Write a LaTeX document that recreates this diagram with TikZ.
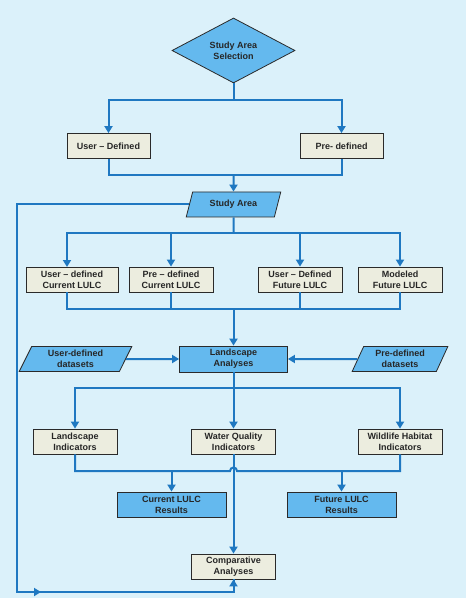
\documentclass[tikz,border=0pt]{standalone}
\usepackage{fontspec}
\setmainfont{Liberation Sans}
\usetikzlibrary{shapes.geometric,arrows.meta,calc}
\definecolor{bgc}{HTML}{DBF1FA}
\definecolor{linec}{HTML}{1F78C1}
\definecolor{bluef}{HTML}{64B9EE}
\definecolor{beigef}{HTML}{ECEDDF}
\definecolor{edgec}{HTML}{2A2A2A}
\tikzset{
  every node/.style={font=\fontsize{9}{11}\selectfont\bfseries, text=black!85, align=center},
  boxbase/.style={draw=edgec, line width=0.8pt, inner sep=0pt, minimum height=25pt},
  beigebox/.style={boxbase, fill=beigef},
  bluebox/.style={boxbase, fill=bluef},
  parabox/.style={draw=edgec, line width=0.8pt, fill=bluef, trapezium, trapezium left angle=66, trapezium right angle=114, trapezium stretches=true, inner sep=0pt, minimum height=25pt},
  diabox/.style={draw=edgec, line width=0.8pt, fill=bluef, diamond, aspect=1.9, inner sep=0pt, minimum width=123pt, minimum height=65pt},
  conn/.style={draw=linec, line width=2pt},
  arr/.style={conn, -{Triangle[length=7pt,width=8pt]}},
}
\begin{document}
\begin{tikzpicture}[x=1pt,y=-1pt]
\useasboundingbox (0,0) rectangle (467,601);
\fill[white] (0,0) rectangle (467,601);
\fill[bgc] (0,0) rectangle (465.5,597.5);

% nodes
\node[diabox] (dia) at (233.5,50.5) {Study Area\\Selection};
\node[beigebox, minimum width=83pt] (ud) at (108.5,146) {User -- Defined};
\node[beigebox, minimum width=83pt] (pd) at (341.5,146) {Pre- defined};
\node[parabox, minimum width=95pt] (sa) at (233.5,204.5) {Study Area};

\node[beigebox, minimum width=92pt] (b1) at (72,279.5) {User -- defined\\Current LULC};
\node[beigebox, minimum width=84pt] (b2) at (171,279.5) {Pre -- defined\\Current LULC};
\node[beigebox, minimum width=84pt] (b3) at (300,279.5) {User -- Defined\\Future LULC};
\node[beigebox, minimum width=84pt] (b4) at (400,279.5) {Modeled\\Future LULC};

\node[bluebox, minimum width=108pt, minimum height=26pt] (la) at (233.5,359) {Landscape\\Analyses};
\node[parabox, minimum width=113pt] (udd) at (75.5,359) {User-defined\\datasets};
\node[parabox, minimum width=96pt] (pdd) at (400,359) {Pre-defined\\datasets};

\node[beigebox, minimum width=84pt] (li) at (75,441.5) {Landscape\\Indicators};
\node[beigebox, minimum width=84pt] (wq) at (233.5,441.5) {Water Quality\\Indicators};
\node[beigebox, minimum width=84pt] (wh) at (400,441.5) {Wildlife Habitat\\Indicators};

\node[bluebox, minimum width=109pt] (cr) at (171.5,504.5) {Current LULC\\Results};
\node[bluebox, minimum width=109pt] (fr) at (341.5,504.5) {Future LULC\\Results};

\node[beigebox, minimum width=84pt] (ca) at (233.5,566.5) {Comparative\\Analyses};

% coordinates
\coordinate (j1) at (233.5,100.5);
\coordinate (j2) at (233.5,175.5);
\coordinate (j3) at (233.5,233);
\coordinate (b1t) at (67,267);
\coordinate (b1b) at (67,292);
\coordinate (j4) at (233.5,309);
\coordinate (j5) at (233.5,388);
\coordinate (j6) at (75,471);
\coordinate (c1) at (171.5,471);
\coordinate (c2) at (341.5,471);
\coordinate (fbbot) at (17,592);
\coordinate (fbmid) at (41,592);

% connectors
\draw[conn] (dia.south) -- (j1);
\draw[arr] (j1) -| (ud.north);
\draw[arr] (j1) -| (pd.north);
\draw[conn] (ud.south) |- (j2) -| (pd.south);
\draw[arr] (j2) -- (sa.north);

\draw[conn] (sa.south) -- (j3);
\draw[arr] (j3) -| (b1t);
\draw[arr] (j3) -| (b2.north);
\draw[arr] (j3) -| (b3.north);
\draw[arr] (j3) -| (b4.north);
\draw[conn] (b1b) |- (j4) -| (b4.south);
\draw[conn] (b2.south) -- (b2.south |- j4);
\draw[conn] (b3.south) -- (b3.south |- j4);
\draw[arr] (j4) -- (la.north);

\draw[arr] (udd.east) -- (la.west);
\draw[arr] (pdd.west) -- (la.east);

\draw[conn] (la.south) -- (j5);
\draw[arr] (j5) -| (li.north);
\draw[arr] (j5) -- (wq.north);
\draw[arr] (j5) -| (wh.north);

\draw[conn] (li.south) -- (j6) -- ($(wq.south |- j6)+(-3.5,0)$) arc (180:0:3.5pt) -| (wh.south);
\draw[arr] (c1) -- (cr.north);
\draw[arr] (c2) -- (fr.north);
\draw[arr] (wq.south) -- (ca.north);

\draw[conn] (sa.west) -| (fbbot) -| (ca.south);
\draw[arr] (fbbot) -- (fbmid);
\draw[arr] (ca.south |- fbbot) -- (ca.south);
\end{tikzpicture}
\end{document}
